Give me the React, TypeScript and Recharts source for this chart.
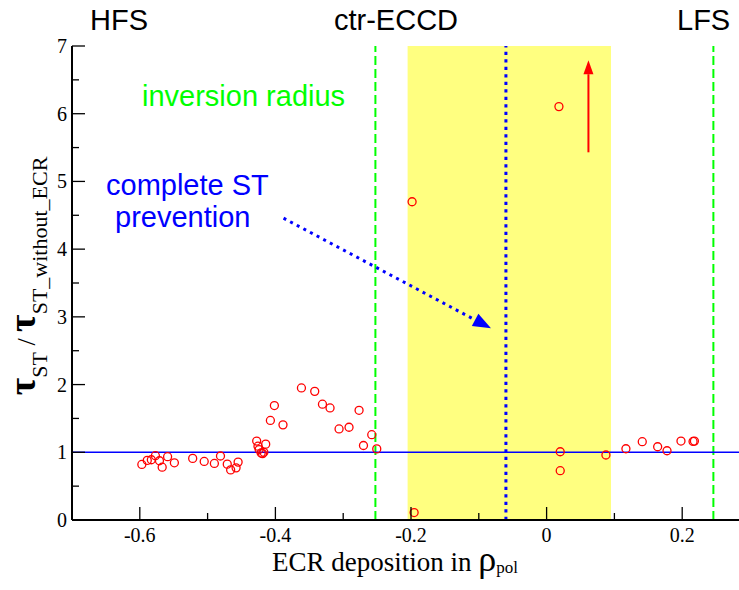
import {
  ComposedChart,
  Scatter,
  XAxis,
  YAxis,
  ReferenceArea,
  ReferenceLine,
} from "recharts";

// ECR deposition position (rho_pol) and sawtooth period ratio
const rhoPol = [
  -0.597, -0.589, -0.583, -0.577, -0.571, -0.567, -0.559, -0.549, -0.522,
  -0.505, -0.49, -0.481, -0.471, -0.466, -0.458, -0.455, -0.4276, -0.4257,
  -0.424, -0.421, -0.419, -0.417, -0.4143, -0.4074, -0.4015, -0.3888,
  -0.3616, -0.342, -0.3306, -0.3194, -0.3061, -0.2914, -0.2766, -0.2701,
  -0.2579, -0.2505, -0.1984, -0.1954, 0.0182, 0.0201, 0.0201, 0.0875, 0.117,
  0.1411, 0.1638, 0.1776, 0.1982, 0.216, 0.218,
];
const tauRatio = [
  0.82, 0.88, 0.89, 0.95, 0.875, 0.78, 0.935, 0.845, 0.91, 0.865, 0.835,
  0.945, 0.825, 0.74, 0.77, 0.855, 1.166, 1.09, 1.04, 0.99, 0.98, 1.0, 1.12,
  1.47, 1.69, 1.405, 1.95, 1.9, 1.71, 1.655, 1.345, 1.37, 1.62, 1.1, 1.26,
  1.05, 4.7, 0.11, 6.105, 1.008, 0.728, 0.96, 1.052, 1.156, 1.082, 1.023,
  1.166, 1.16, 1.165,
];

const xTicks = [-0.6, -0.5, -0.4, -0.3, -0.2, -0.1, 0, 0.1, 0.2];
const xLabelTicks = [-0.6, -0.4, -0.2, 0, 0.2];
const yTicks = [0, 0.5, 1, 1.5, 2, 2.5, 3, 3.5, 4, 4.5, 5, 5.5, 6, 6.5, 7];
const yLabelTicks = [0, 1, 2, 3, 4, 5, 6, 7];

// ctr-ECCD band, sawtooth inversion radius, complete ST prevention
const eccdBand = [-0.205, 0.095];
const inversionRadius = [-0.2525, 0.246];
const preventionRho = -0.06;
const referenceRatio = 1;
const blueArrow = [
  { x: -0.388, y: 4.457 },
  { x: -0.082, y: 2.83 },
];
const redArrow = [
  { x: 0.0617, y: 5.43 },
  { x: 0.0617, y: 6.79 },
];

const data = rhoPol.map((x, i) => ({ x, y: tauRatio[i] }));

const SERIF = "'Liberation Serif', 'Times New Roman', serif";
const SANS = "'Liberation Sans', Arial, sans-serif";

const fmt = (v: number) => (v === 0 ? "0" : String(v));

function BottomTick({ x, y, payload }: any) {
  const major = xLabelTicks.includes(payload.value);
  return (
    <g>
      <line x1={x} y1={y} x2={x} y2={y - (major ? 13 : 7)} stroke="#000" strokeWidth={1.3} />
      {major && (
        <text x={x} y={y + 22} textAnchor="middle" fontFamily={SERIF} fontSize={20} fill="#000">
          {fmt(payload.value)}
        </text>
      )}
    </g>
  );
}

function TopTick({ x, y, payload }: any) {
  const major = xLabelTicks.includes(payload.value);
  return <line x1={x} y1={y} x2={x} y2={y + (major ? 13 : 7)} stroke="#000" strokeWidth={1.3} />;
}

function LeftTick({ x, y, payload }: any) {
  const major = yLabelTicks.includes(payload.value);
  return (
    <g>
      <line x1={x} y1={y} x2={x + (major ? 13 : 7)} y2={y} stroke="#000" strokeWidth={1.3} />
      {major && (
        <text x={x - 5} y={y + 7} textAnchor="end" fontFamily={SERIF} fontSize={20} fill="#000">
          {fmt(payload.value)}
        </text>
      )}
    </g>
  );
}

function RightTick({ x, y, payload }: any) {
  const major = yLabelTicks.includes(payload.value);
  return <line x1={x} y1={y} x2={x - (major ? 13 : 7)} y2={y} stroke="#000" strokeWidth={1.3} />;
}

function arrowShape(color: string, width: number, dash: string | undefined, len: number, half: number) {
  return (props: any) => {
    const { x1, y1, x2, y2 } = props;
    const dx = x2 - x1;
    const dy = y2 - y1;
    const d = Math.sqrt(dx * dx + dy * dy) || 1;
    const ux = dx / d;
    const uy = dy / d;
    const bx = x2 - ux * len;
    const by = y2 - uy * len;
    const pts = `${x2},${y2} ${bx - uy * half},${by + ux * half} ${bx + uy * half},${by - ux * half}`;
    return (
      <g>
        <line x1={x1} y1={y1} x2={bx} y2={by} stroke={color} strokeWidth={width} strokeDasharray={dash} />
        <polygon points={pts} fill={color} />
      </g>
    );
  };
}

const Ring = (props: any) => (
  <circle cx={props.cx} cy={props.cy} r={4} fill="none" stroke="#ff0000" strokeWidth={1.3} />
);

export default function App() {
  return (
    <div
      style={{
        position: "absolute",
        left: 0,
        top: 0,
        width: 739,
        height: 590,
        overflow: "hidden",
        background: "#fff",
      }}
    >
      <ComposedChart
        width={760}
        height={590}
        data={data}
        margin={{ top: 46, right: 10, bottom: 0, left: 0 }}
      >
        <XAxis
          dataKey="x"
          type="number"
          domain={[-0.7, 0.3]}
          ticks={xTicks}
          interval={0}
          height={70}
          tickSize={0}
          tickMargin={0}
          tickLine={false}
          tick={<BottomTick />}
          axisLine={{ stroke: "#000", strokeWidth: 2 }}
        />
        <XAxis
          xAxisId="top"
          orientation="top"
          type="number"
          domain={[-0.7, 0.3]}
          ticks={xTicks}
          interval={0}
          height={0}
          tickSize={0}
          tickMargin={0}
          tickLine={false}
          tick={<TopTick />}
          axisLine={{ stroke: "#000", strokeWidth: 2 }}
        />
        <YAxis
          type="number"
          domain={[0, 7]}
          ticks={yTicks}
          interval={0}
          width={72}
          tickSize={0}
          tickMargin={0}
          tickLine={false}
          tick={<LeftTick />}
          axisLine={{ stroke: "#000", strokeWidth: 2 }}
        />
        <YAxis
          yAxisId="right"
          orientation="right"
          type="number"
          domain={[0, 7]}
          ticks={yTicks}
          interval={0}
          width={0}
          tickSize={0}
          tickMargin={0}
          tickLine={false}
          tick={<RightTick />}
          axisLine={{ stroke: "#000", strokeWidth: 2 }}
        />
        <ReferenceArea
          x1={eccdBand[0]}
          x2={eccdBand[1]}
          y1={0}
          y2={7}
          fill="#ffff80"
          fillOpacity={1}
          stroke="none"
        />
        {inversionRadius.map((r) => (
          <ReferenceLine key={r} x={r} stroke="#00ff00" strokeWidth={2} strokeDasharray="9 4" />
        ))}
        <ReferenceLine x={preventionRho} stroke="#0000ff" strokeWidth={3} strokeDasharray="3.3 4.2" />
        <ReferenceLine y={referenceRatio} stroke="#0000ff" strokeWidth={1.5} />
        <ReferenceLine
          segment={blueArrow}
          stroke="#0000ff"
          shape={arrowShape("#0000ff", 3, "3 4.5", 18, 7)}
        />
        <ReferenceLine
          segment={redArrow}
          stroke="#ff0000"
          shape={arrowShape("#ff0000", 2, undefined, 14, 5)}
        />
        <Scatter dataKey="y" shape={<Ring />} isAnimationActive={false} />
      </ComposedChart>
      <svg
        width={739}
        height={590}
        style={{ position: "absolute", left: 0, top: 0, pointerEvents: "none" }}
      >
        <text x={90} y={30} fontFamily={SANS} fontSize={29} fill="#000">HFS</text>
        <text x={396} y={30} textAnchor="middle" fontFamily={SANS} fontSize={29} fill="#000">ctr-ECCD</text>
        <text x={677} y={30} fontFamily={SANS} fontSize={29} fill="#000">LFS</text>
        <text x={142} y={106} fontFamily={SANS} fontSize={29} fill="#00ff00">inversion radius</text>
        <text x={106} y={195} fontFamily={SANS} fontSize={29} fill="#0000ff">complete ST</text>
        <text x={115} y={227} fontFamily={SANS} fontSize={29} fill="#0000ff">prevention</text>
        <text x={272} y={571} fontFamily={SERIF} fontSize={27} fill="#000">
          ECR deposition in{" "}
          <tspan fontSize={36}>ρ</tspan>
          <tspan fontSize={17} dy={2}>pol</tspan>
        </text>
        <text
          transform="translate(35,276) rotate(-90)"
          textAnchor="middle"
          fontFamily={SERIF}
          fill="#000"
        >
          <tspan fontSize={38} fontWeight="bold">τ</tspan>
          <tspan fontSize={22} dy={12}>ST</tspan>
          <tspan fontSize={26} dy={-12}> / </tspan>
          <tspan fontSize={38} fontWeight="bold">τ</tspan>
          <tspan fontSize={22} dy={12}>ST_without_ECR</tspan>
        </text>
      </svg>
    </div>
  );
}
